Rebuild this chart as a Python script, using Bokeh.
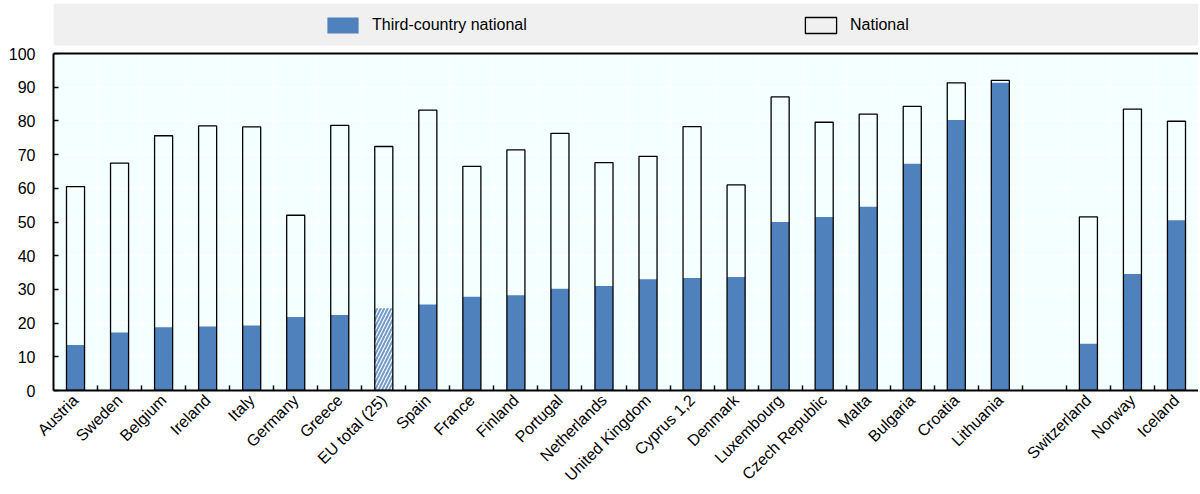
from math import pi
from bokeh.plotting import figure
from bokeh.models import (ColumnDataSource, FixedTicker, Legend, LegendItem,
                          BoxAnnotation, Span, Range1d)
from bokeh.embed import file_html
from bokeh.resources import INLINE

# ---- data ----
eu_countries = ["Austria", "Sweden", "Belgium", "Ireland", "Italy", "Germany",
                "Greece", "EU total (25)", "Spain", "France", "Finland",
                "Portugal", "Netherlands", "United Kingdom", "Cyprus 1,2",
                "Denmark", "Luxembourg", "Czech Republic", "Malta", "Bulgaria",
                "Croatia", "Lithuania"]
other_countries = ["Switzerland", "Norway", "Iceland"]

tcn_eu = [13.5, 17.2, 18.8, 19.0, 19.3, 21.8, 22.4, 24.4, 25.5, 27.8, 28.3,
          30.2, 31.0, 33.0, 33.4, 33.7, 50.0, 51.5, 54.5, 67.3, 80.3, 91.3]
total_eu = [60.5, 67.5, 75.6, 78.5, 78.2, 52.0, 78.7, 72.4, 83.2, 66.5, 71.4,
            76.3, 67.6, 69.5, 78.3, 61.0, 87.1, 79.6, 82.0, 84.3, 91.3, 92.0]
tcn_other = [13.9, 34.6, 50.5]
total_other = [51.5, 83.5, 79.9]

eu_total_label = "EU total (25)"
y_ticks = [0, 10, 20, 30, 40, 50, 60, 70, 80, 90, 100]

# ---- layout helpers ----
countries = eu_countries + other_countries
tcn = tcn_eu + tcn_other
total = total_eu + total_other
n_eu = len(eu_countries)
xs = [i if i < n_eu else i + 1 for i in range(len(countries))]  # one empty slot
n_slots = len(countries) + 1

BLUE = "#4F81BD"
BG = "#F4FFFF"
FONT = "Liberation Sans"
FS = "16px"

is_eu_total = [c == eu_total_label for c in countries]
src_tcn = ColumnDataSource(dict(x=[x for x, f in zip(xs, is_eu_total) if not f],
                                top=[t for t, f in zip(tcn, is_eu_total) if not f]))
src_hatch = ColumnDataSource(dict(x=[x for x, f in zip(xs, is_eu_total) if f],
                                  top=[t for t, f in zip(tcn, is_eu_total) if f]))
src_total = ColumnDataSource(dict(x=xs, top=total))

TOP_B, BOT_B = 3, 104
H = 494
frame_h = H - TOP_B - BOT_B
frame_bottom = TOP_B + frame_h
px_per_unit = (frame_bottom - 53) / 100
y_top = frame_h / px_per_unit

p = figure(width=1198, height=H, output_backend="svg", toolbar_location=None,
           x_range=Range1d(-0.5, n_slots - 0.5), y_range=Range1d(0, y_top),
           min_border_left=53, min_border_right=0, min_border_top=TOP_B,
           min_border_bottom=BOT_B, background_fill_color=BG,
           border_fill_color="white", outline_line_color=None)

bw = 0.41
r_tcn = p.vbar(x="x", top="top", bottom=0, width=bw, source=src_tcn,
               fill_color=BLUE, line_color=None)
p.vbar(x="x", top="top", bottom=0, width=bw, source=src_hatch,
       fill_color="white", line_color=None, hatch_pattern="/",
       hatch_color=BLUE, hatch_alpha=0.8, hatch_scale=7, hatch_weight=2)
r_tot = p.vbar(x="x", top="top", bottom=0, width=bw, source=src_total,
               fill_alpha=0, line_color="black", line_width=1.3)

# axes
bounds = [i + 0.5 for i in range(n_slots - 1)]
p.xaxis.ticker = FixedTicker(ticks=xs, minor_ticks=bounds)
p.xaxis.major_label_overrides = {x: c for x, c in zip(xs, countries)}
p.xaxis.major_label_orientation = pi / 4
p.xaxis.major_tick_line_color = None
p.xaxis.minor_tick_in = 5
p.xaxis.minor_tick_out = 0
p.xaxis.minor_tick_line_color = "black"
p.xaxis.minor_tick_line_width = 1.5
p.xaxis.axis_line_width = 2
p.xaxis.axis_line_color = "black"
p.xaxis.major_label_standoff = 1
p.xaxis.major_label_text_font = FONT
p.xaxis.major_label_text_font_size = FS
p.xaxis.major_label_text_color = "black"

p.yaxis.ticker = FixedTicker(ticks=y_ticks)
p.yaxis.bounds = (0, 100)
p.yaxis.major_tick_in = 5
p.yaxis.major_tick_out = 0
p.yaxis.major_tick_line_width = 1.5
p.yaxis.minor_tick_line_color = None
p.yaxis.axis_line_width = 2
p.yaxis.axis_line_color = "black"
p.yaxis.major_label_standoff = 18
p.yaxis.major_label_text_font = FONT
p.yaxis.major_label_text_font_size = FS
p.yaxis.major_label_text_color = "black"

p.xgrid.grid_line_color = None
p.xgrid.minor_grid_line_color = "white"
p.xgrid.minor_grid_line_width = 1.5
p.ygrid.grid_line_color = "white"
p.ygrid.grid_line_width = 1.5

# top band
band_bottom_px = frame_bottom - 45  # px above the zero line
p.add_layout(BoxAnnotation(bottom=100, fill_color="white", fill_alpha=1,
                           line_color=None))
p.add_layout(BoxAnnotation(bottom=band_bottom_px / px_per_unit,
                           fill_color="#F0F0F0", fill_alpha=1, line_color=None))
p.add_layout(Span(location=100, dimension="width", line_color="black",
                  line_width=2))

legend_top = 15  # page px
def make_legend(label, rend, x):
    lg = Legend(items=[LegendItem(label=label, renderers=[rend])],
                location=(x, frame_h - (legend_top - TOP_B) - 20),
                orientation="horizontal",
                background_fill_alpha=0, border_line_color=None,
                glyph_width=39, glyph_height=20, label_standoff=10,
                padding=0, margin=0, label_text_font=FONT,
                label_text_font_size=FS, label_text_color="black")
    p.add_layout(lg)

make_legend("Third-country national", r_tcn, 270)
make_legend("National", r_tot, 748)

open("out.html", "w").write(file_html(p, INLINE))
